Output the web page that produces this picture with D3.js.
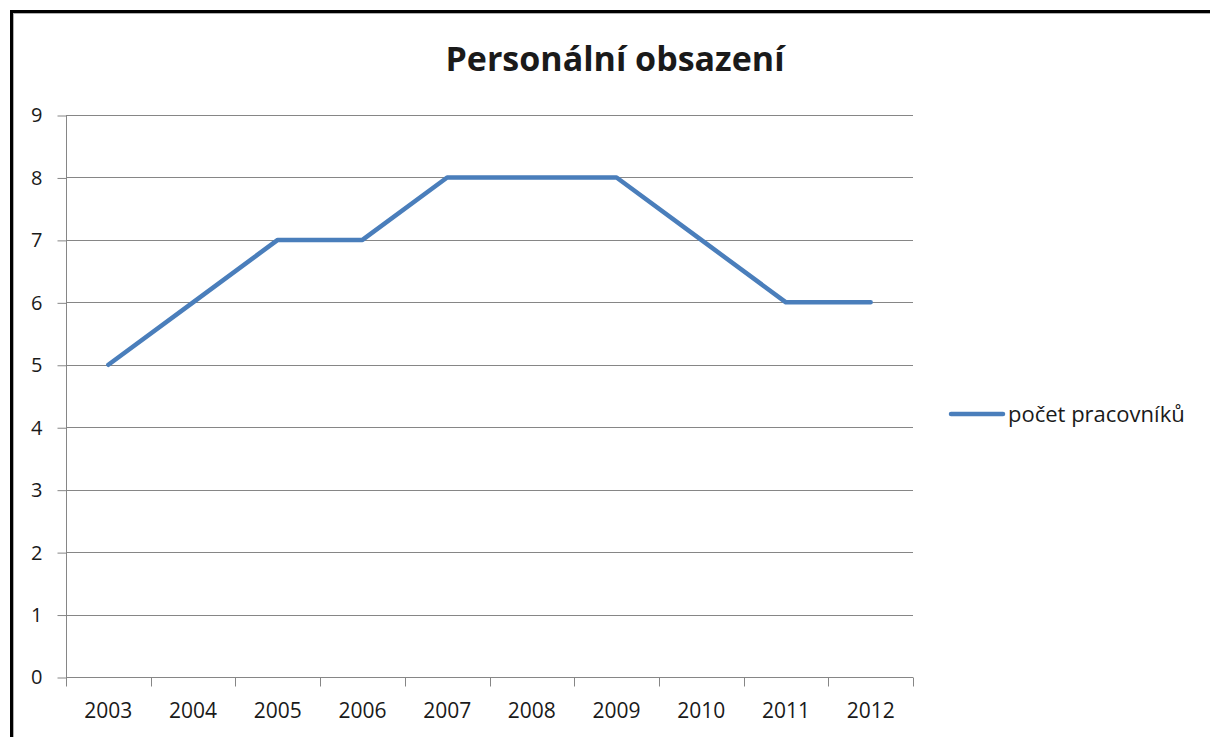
<!doctype html>
<html lang="cs">
  <head>
    <meta charset="utf-8">
    <script src="https://d3js.org/d3.v7.min.js"></script>
    <title>Personální obsazení</title>
    <style>
      body { margin: 0; background: #fff; }
      text { font-family: "Open Sans", "DejaVu Sans", sans-serif; fill: #1a1a1a; }
    </style>
  </head>
  <body>
    <div id="chart"></div>
    <script>
      // data
      const years = ["2003", "2004", "2005", "2006", "2007", "2008", "2009", "2010", "2011", "2012"];
      const staff = [5, 6, 7, 7, 8, 8, 8, 7, 6, 6];
      const yTicks = [0, 1, 2, 3, 4, 5, 6, 7, 8, 9];
      const title = "Personální obsazení";
      const seriesName = "počet pracovníků";

      const W = 1210, H = 737;
      const plot = {left: 66, right: 913, top: 115, bottom: 677};

      const svg = d3.select("#chart").append("svg")
        .attr("width", W).attr("height", H);

      // chart frame (right and bottom edges fall outside the picture)
      svg.append("rect")
        .attr("x", 11.5).attr("y", 11.5)
        .attr("width", W + 20).attr("height", H + 20)
        .attr("fill", "none").attr("stroke", "#000").attr("stroke-width", 3);
      svg.append("rect")
        .attr("x", 13.5).attr("y", 13.5)
        .attr("width", W + 20).attr("height", H + 20)
        .attr("fill", "none").attr("stroke", "#b0b0b0").attr("stroke-width", 1);

      const x = d3.scaleBand().domain(years).range([plot.left, plot.right]);
      const y = d3.scaleLinear().domain([0, 9]).range([plot.bottom, plot.top]);

      // horizontal gridlines
      svg.append("g")
        .selectAll("line").data(yTicks.filter(d => d > 0)).join("line")
          .attr("x1", plot.left).attr("x2", plot.right)
          .attr("y1", d => Math.round(y(d)) + 0.5).attr("y2", d => Math.round(y(d)) + 0.5)
          .attr("stroke", "#868686");

      // y axis
      const yAxis = svg.append("g")
        .attr("transform", `translate(${plot.left + 0.5},0.5)`)
        .call(d3.axisLeft(y).tickValues(yTicks).tickSize(9).tickPadding(15));
      yAxis.select(".domain").attr("stroke", "#868686").attr("d", `M0,${plot.top}V${plot.bottom}`);
      yAxis.selectAll(".tick line").attr("stroke", "#868686");
      yAxis.selectAll(".tick text").attr("font-size", 20).attr("fill", "#1a1a1a")
        .attr("font-family", "\"Open Sans\", sans-serif");

      // x axis with ticks between categories
      const xAxis = svg.append("g")
        .attr("transform", `translate(0,${Math.round(plot.bottom) + 0.5})`);
      xAxis.append("line")
        .attr("x1", plot.left).attr("x2", plot.right)
        .attr("stroke", "#868686");
      xAxis.selectAll("line.sep").data(d3.range(years.length + 1)).join("line")
        .attr("class", "sep")
        .attr("x1", i => Math.round(plot.left + i * x.step()) + 0.5)
        .attr("x2", i => Math.round(plot.left + i * x.step()) + 0.5)
        .attr("y1", 0).attr("y2", 9)
        .attr("stroke", "#868686");
      xAxis.selectAll("text").data(years).join("text")
        .attr("x", d => x(d) + x.bandwidth() / 2)
        .attr("y", 40)
        .attr("text-anchor", "middle")
        .attr("font-size", 21)
        .text(d => d);

      // series line
      const line = d3.line()
        .x((d, i) => x(years[i]) + x.bandwidth() / 2)
        .y(d => y(d));
      svg.append("path")
        .datum(staff)
        .attr("d", line)
        .attr("fill", "none")
        .attr("stroke", "#4a7ebb")
        .attr("stroke-width", 4.5)
        .attr("stroke-linejoin", "round")
        .attr("stroke-linecap", "round");

      // title
      svg.append("text")
        .attr("x", 615).attr("y", 71)
        .attr("text-anchor", "middle")
        .attr("font-size", 34).attr("font-weight", "bold")
        .attr("fill", "#000")
        .text(title);

      // legend
      const lg = svg.append("g").attr("transform", "translate(951,414)");
      lg.append("line")
        .attr("x1", 0).attr("x2", 52)
        .attr("stroke", "#4a7ebb").attr("stroke-width", 4.5)
        .attr("stroke-linecap", "round");
      lg.append("text")
        .attr("x", 57).attr("y", 8)
        .attr("font-size", 22)
        .text(seriesName);
    </script>
  </body>
</html>
